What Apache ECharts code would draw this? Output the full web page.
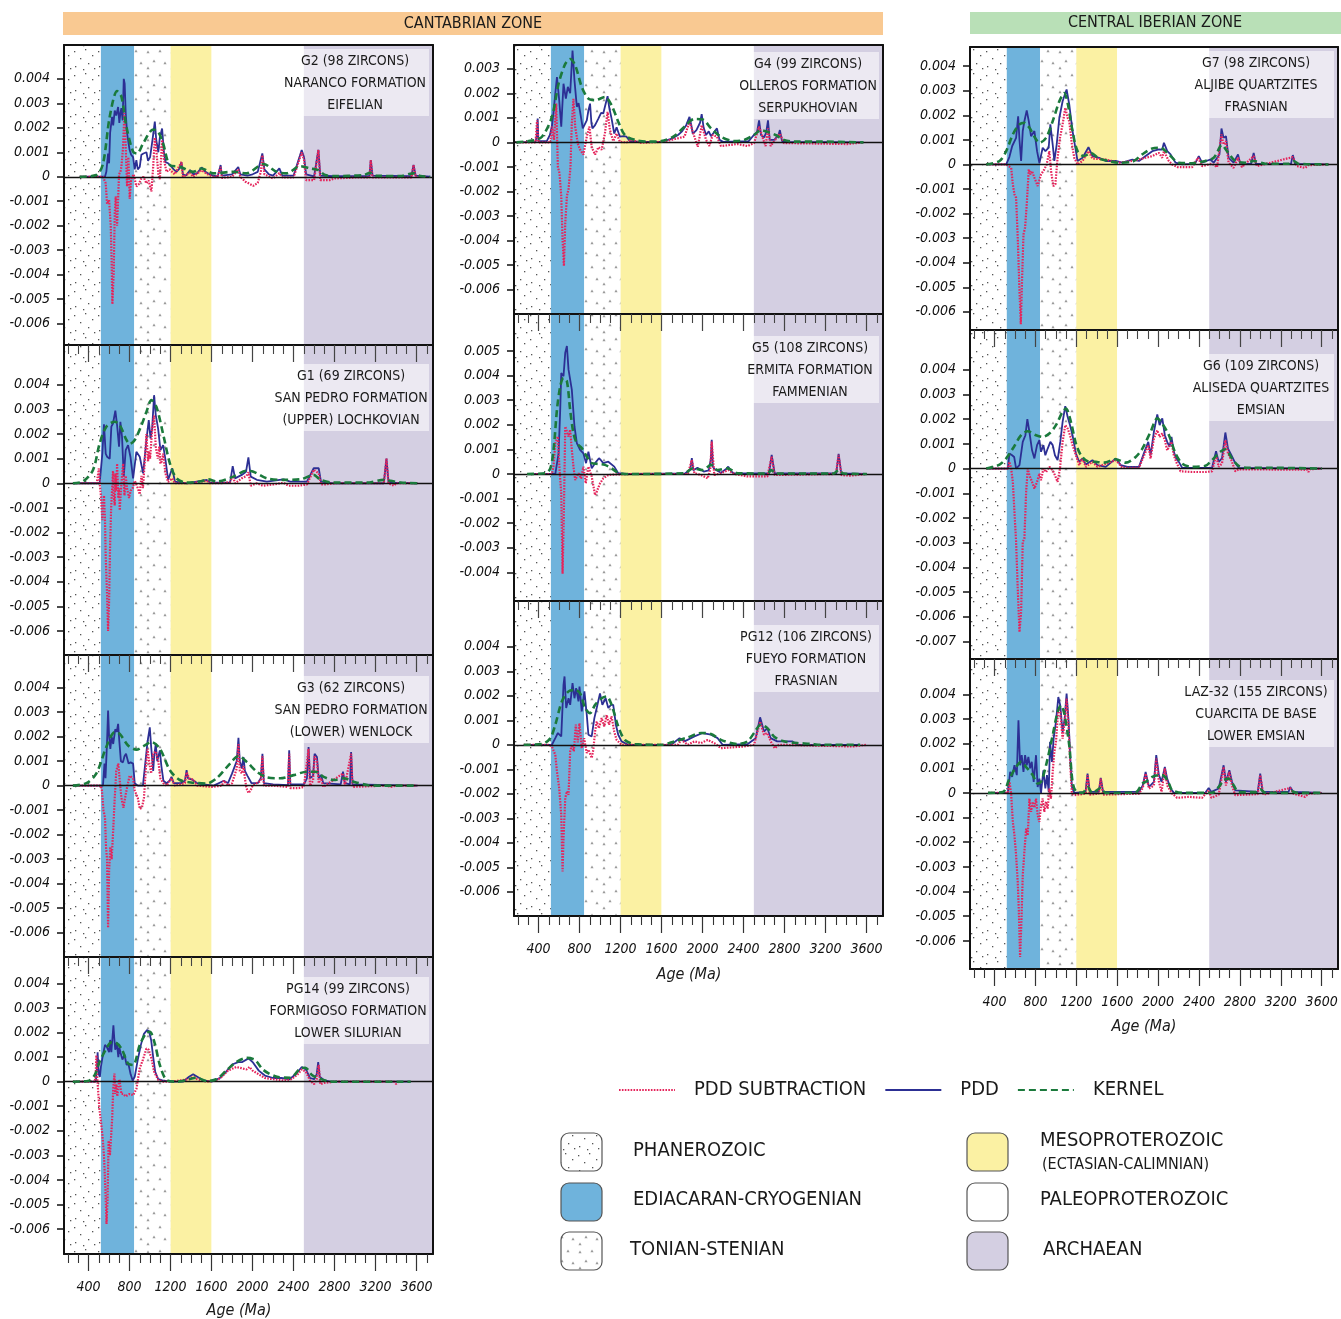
<!DOCTYPE html>
<html>
<head>
<meta charset="utf-8">
<title>Detrital zircon age spectra - Cantabrian and Central Iberian zones</title>
<script src="https://cdn.jsdelivr.net/npm/echarts@6/dist/echarts.min.js"></script>
<style>
  html, body { margin: 0; padding: 0; background: #fff; }
  #chart { width: 1341px; height: 1319px; }
</style>
</head>
<body>
<div id="chart"></div>
<script>
// all probability values below are in units of 0.001 (axis labels divide back)
var AGE_MIN = 160, AGE_MAX = 3760;
var majorAges = [400, 800, 1200, 1600, 2000, 2400, 2800, 3200, 3600];
var minorAges = [200, 300, 500, 600, 700, 900, 1000, 1100, 1300, 1400, 1500, 1700, 1800, 1900, 2100, 2200, 2300, 2500, 2600, 2700, 2900, 3000, 3100, 3300, 3400, 3500, 3700];

var bandNames = ['PHANEROZOIC', 'EDIACARAN-CRYOGENIAN', 'TONIAN-STENIAN', 'MESOPROTEROZOIC', 'PALEOPROTEROZOIC', 'ARCHAEAN'];
var bandFrom = [160, 520, 845, 1200, 1600, 2500];
var bandTo = [520, 845, 1200, 1600, 2500, 3760];

var ticksStd = [-6, -5, -4, -3, -2, -1, 0, 1, 2, 3, 4];
var ticksG4 = [-6, -5, -4, -3, -2, -1, 0, 1, 2, 3];
var ticksG5 = [-4, -3, -2, -1, 0, 1, 2, 3, 4, 5];
var ticksG6 = [-7, -6, -5, -4, -3, -2, -1, 0, 1, 2, 3, 4];

// ---- G2 Naranco Fm
var g2Sub = [[313,0],[541,0],[567,-0.27],[580,-1.1],[600,-0.95],[616,-2.0],[625,-3.5],[632,-5.2],[645,-3.9],[655,-1.5],[665,-0.8],[678,-2.0],[697,0.1],[710,0.2],[720,0.4],[736,1.2],[749,2.6],[760,1.5],[775,-0.4],[788,0.8],[801,-0.9],[815,-0.1],[840,0.1],[866,-0.4],[890,-0.3],[910,-0.1],[935,0],[964,-0.27],[985,-0.15],[1013,-0.6],[1030,0.4],[1046,1.6],[1060,1.1],[1081,0.1],[1095,-0.1],[1117,1.5],[1135,0.7],[1160,0.2],[1190,0.3],[1240,0.1],[1306,0.6],[1320,0],[1390,0.15],[1420,0],[1502,0.27],[1560,0.1],[1616,0],[1660,0],[1688,0.4],[1700,-0.05],[1800,0],[1860,0.3],[1880,0],[1930,-0.2],[2007,-0.37],[2050,-0.25],[2080,0.2],[2095,0.88],[2115,0.1],[2200,-0.07],[2261,0.15],[2290,-0.03],[2400,-0.03],[2479,1.0],[2502,0.68],[2522,-0.14],[2600,-0.14],[2642,1.1],[2660,-0.14],[2750,-0.14],[2800,-0.07],[3000,-0.03],[3140,-0.03],[3153,0.68],[3170,-0.03],[3550,-0.03],[3570,0.48],[3590,0],[3700,0]];
var g2Pdd = [[313,0],[560,0],[573,0.2],[590,0.95],[600,0.55],[610,1.8],[629,2.45],[640,2.1],[655,2.7],[670,2.5],[688,2.85],[700,2.2],[710,2.6],[720,2.8],[732,2.3],[743,4.0],[752,3.8],[762,2.6],[775,1.8],[785,1.5],[800,1.1],[815,0.9],[834,0.8],[850,0.3],[866,0.68],[880,0.3],[899,0.4],[915,0.9],[935,0.95],[964,1.0],[980,0.65],[1000,0.8],[1023,1.5],[1046,2.25],[1060,1.5],[1080,1.0],[1095,1.6],[1117,1.97],[1135,1.0],[1150,0.6],[1176,0.55],[1200,0.45],[1230,0.3],[1257,0.2],[1290,0.35],[1306,0.6],[1320,0.1],[1350,0.05],[1390,0.27],[1420,0.1],[1460,0.15],[1502,0.38],[1540,0.2],[1580,0.1],[1616,0.05],[1660,0.02],[1688,0.48],[1700,0.05],[1800,0.1],[1860,0.4],[1880,0.1],[1950,0.05],[2000,0.1],[2050,0.2],[2095,0.95],[2115,0.3],[2160,0.1],[2200,0.05],[2261,0.34],[2290,0.05],[2400,0.05],[2479,1.09],[2502,0.8],[2522,0.1],[2600,0.02],[2642,1.1],[2660,0.05],[2800,0.02],[3140,0.02],[3153,0.68],[3170,0.05],[3550,0.02],[3570,0.48],[3590,0.05],[3733,0]];
var g2Kernel = [[313,0],[476,0.07],[541,0.54],[606,2.45],[678,3.5],[720,3.27],[769,2.04],[834,1.02],[873,0.95],[932,1.36],[1030,1.93],[1078,1.84],[1127,1.36],[1192,0.48],[1290,0.41],[1420,0.2],[1502,0.34],[1616,0.14],[1811,0.2],[1942,0.14],[2105,0.52],[2235,0.2],[2333,0.14],[2463,0.43],[2561,0.34],[2642,0.27],[2707,0.07],[2789,0.03],[3082,0.07],[3147,0.16],[3212,0.04],[3440,0.03],[3570,0.14],[3636,0.03],[3733,0]];

// ---- G1 San Pedro Fm (upper)
var g1Sub = [[247,0],[480,0],[490,0.3],[500,0.6],[508,0],[520,-0.5],[534,-1.5],[550,-0.5],[560,-1.5],[567,-3.0],[580,-4.5],[590,-6.0],[600,-4.8],[610,-2.5],[620,-1.0],[630,-0.2],[638,0.5],[645,-0.5],[655,-0.9],[661,0.4],[670,-0.3],[678,0.8],[690,-0.6],[697,-0.2],[704,-1.1],[715,-0.3],[726,0.3],[737,0.8],[750,-0.5],[762,0.3],[775,-0.2],[795,-0.6],[810,-0.3],[830,-0.2],[850,0.1],[880,-0.2],[899,-0.45],[915,0.3],[930,-0.2],[950,1.0],[964,2.0],[980,0.9],[990,1.3],[1000,1.0],[1020,2.2],[1039,2.75],[1055,1.5],[1075,1.0],[1090,1.5],[1101,0.8],[1115,0.9],[1127,1.2],[1150,0.4],[1176,0.05],[1216,0.2],[1242,0],[1400,0],[1552,0.1],[1584,0],[1700,0],[1780,0.05],[1806,0.3],[1829,0],[1894,0.2],[1940,0.3],[1959,0.45],[1982,-0.1],[2041,0],[2100,-0.1],[2200,-0.05],[2302,0.02],[2350,-0.1],[2450,-0.1],[2530,-0.05],[2596,0.55],[2645,0.4],[2667,-0.05],[2700,-0.05],[2800,0],[3280,0],[3306,1.0],[3326,0],[3380,-0.1],[3400,0],[3607,0]];
var g1Pdd = [[247,0],[508,0],[534,1.2],[550,2.4],[567,1.2],[580,1.08],[606,1.0],[622,2.3],[638,2.43],[661,2.95],[678,2.36],[697,1.49],[710,2.5],[726,1.89],[743,0.27],[762,1.35],[785,1.55],[808,1.08],[834,0.2],[866,1.28],[899,1.08],[932,0.4],[964,1.76],[987,2.57],[1004,1.82],[1020,2.23],[1039,3.58],[1055,2.77],[1078,2.23],[1101,1.35],[1127,1.55],[1150,0.95],[1176,0.14],[1216,0.61],[1242,0.07],[1356,0],[1552,0.14],[1584,0.03],[1780,0.03],[1806,0.7],[1829,0.2],[1894,0.34],[1936,0.47],[1959,1.05],[1982,0.27],[2041,0.14],[2139,0.07],[2302,0.16],[2367,0.07],[2530,0.07],[2596,0.61],[2645,0.61],[2667,0.07],[2791,0],[3280,0],[3306,1.0],[3326,0.03],[3607,0]];
var g1Kernel = [[247,0],[345,0.07],[443,0.54],[508,1.62],[573,2.3],[655,2.5],[704,2.36],[769,1.76],[801,1.6],[850,1.76],[916,2.36],[964,2.9],[1013,3.38],[1062,3.1],[1127,2.0],[1193,0.81],[1258,0.2],[1356,0.03],[1486,0.07],[1568,0.16],[1649,0.07],[1812,0.27],[1943,0.51],[2008,0.47],[2139,0.2],[2302,0.14],[2465,0.16],[2596,0.34],[2661,0.14],[2791,0.03],[3117,0.03],[3280,0.14],[3346,0.1],[3444,0.03],[3607,0]];

// ---- G3 San Pedro Fm (lower)
var g3Sub = [[247,0],[520,0],[530,-0.2],[545,-1.0],[560,-1.3],[570,-2.5],[580,-3.0],[590,-5.8],[600,-3.5],[612,-2.5],[625,-3.0],[640,-1.8],[655,-0.5],[670,0.6],[690,0.9],[704,0.2],[720,-0.5],[740,-0.9],[760,-0.4],[779,0],[800,0.4],[834,0.3],[850,-0.2],[880,-0.5],[900,-0.95],[920,-0.9],[940,-0.5],[960,0.8],[975,1.5],[990,1.0],[1010,0.5],[1030,1.3],[1055,1.4],[1080,1.0],[1100,0.3],[1130,0.1],[1160,0],[1209,0.3],[1240,0],[1340,0.1],[1356,0.55],[1380,0.3],[1420,0.25],[1460,0],[1600,-0.05],[1700,0],[1720,0.2],[1760,0],[1800,0.1],[1845,0.7],[1862,1.7],[1875,0.6],[1895,0.5],[1911,0.8],[1925,0.3],[1940,-0.1],[1960,-0.3],[1980,-0.2],[2000,0],[2080,0.2],[2096,1.2],[2110,0],[2200,0],[2345,-0.05],[2357,1.3],[2368,-0.1],[2450,-0.1],[2500,-0.05],[2546,1.5],[2560,0],[2590,0.2],[2605,1.2],[2628,1.0],[2645,0.1],[2667,0.3],[2690,-0.05],[2882,0.5],[2900,0],[2961,1.3],[2975,-0.05],[3300,0],[3350,-0.05],[3400,0],[3607,0]];
var g3Pdd = [[247,0],[540,0],[555,0.9],[565,0.3],[580,1.8],[590,3.06],[600,2.0],[612,1.5],[625,2.0],[640,1.7],[660,2.3],[675,2.2],[688,2.52],[700,1.8],[715,1.0],[735,0.95],[750,1.2],[765,1.3],[779,1.3],[790,0.9],[810,0.95],[834,0.9],[850,0.1],[880,0],[930,0],[950,0.8],[975,1.8],[997,2.38],[1010,1.6],[1030,0.6],[1040,1.2],[1055,1.71],[1070,1.0],[1095,1.44],[1110,0.8],[1130,0.2],[1160,0.1],[1190,0.2],[1209,0.36],[1230,0.1],[1300,0.1],[1340,0.2],[1356,0.63],[1370,0.3],[1410,0.25],[1460,0.1],[1520,0.05],[1620,0],[1720,0.2],[1760,0.1],[1800,0.5],[1845,1.0],[1862,1.95],[1875,1.0],[1895,0.7],[1911,1.17],[1925,0.6],[1950,0.4],[1990,0.1],[2050,0.1],[2080,0.3],[2096,1.3],[2110,0.1],[2200,0.05],[2345,0.02],[2357,1.44],[2368,0.05],[2500,0.05],[2530,0.3],[2546,1.58],[2560,0.3],[2590,0.4],[2605,1.3],[2628,1.17],[2645,0.3],[2667,0.43],[2690,0.1],[2860,0.05],[2882,0.57],[2900,0.1],[2950,0.05],[2961,1.37],[2975,0.05],[3607,0]];
var g3Kernel = [[247,0],[378,0.1],[476,0.5],[573,1.58],[655,2.18],[704,2.11],[785,1.64],[866,1.47],[948,1.64],[1013,1.78],[1095,1.51],[1193,0.63],[1290,0.23],[1421,0.12],[1551,0.09],[1649,0.3],[1780,0.9],[1862,1.21],[1943,0.97],[2041,0.57],[2139,0.34],[2269,0.3],[2400,0.43],[2530,0.57],[2612,0.57],[2693,0.36],[2791,0.23],[2889,0.3],[2987,0.16],[3117,0.03],[3280,0],[3607,0]];

// ---- PG14 Formigoso Fm
var pg14Sub = [[247,0],[460,0],[470,0.4],[476,1.08],[484,0.2],[492,-0.3],[505,-1.1],[520,-1.6],[535,-2.2],[550,-3.0],[565,-4.5],[575,-5.8],[585,-4.8],[595,-2.4],[608,-3.0],[620,-2.2],[630,-1.5],[640,-0.3],[652,0.33],[660,-0.5],[670,-0.1],[680,-0.6],[700,0.1],[720,-0.5],[740,-0.5],[760,-0.6],[800,-0.5],[834,-0.55],[866,-0.3],[899,0.54],[930,0.9],[964,1.35],[987,1.3],[1013,0.95],[1040,0.4],[1080,0.07],[1130,0],[1200,0],[1380,0.1],[1420,0.2],[1460,0.1],[1550,0],[1650,0.05],[1700,0.2],[1760,0.45],[1840,0.6],[1890,0.55],[1940,0.5],[1970,0.6],[2000,0.45],[2060,0.3],[2120,0.15],[2200,0.1],[2300,0.05],[2380,0.1],[2440,0.3],[2480,0.5],[2520,0.4],[2560,0.05],[2600,-0.1],[2625,0.1],[2645,0.68],[2660,-0.1],[2700,-0.05],[2800,0],[3380,0],[3400,-0.1],[3420,0]];
var pg14Pdd = [[247,0],[470,0],[480,0.5],[488,1.2],[493,0.8],[500,0.3],[510,0.2],[520,0.6],[540,1.1],[560,1.5],[580,1.4],[600,1.2],[610,1.7],[622,1.2],[635,1.9],[642,2.3],[650,1.8],[660,1.3],[675,1.6],[690,1.0],[700,1.4],[710,1.2],[730,0.9],[750,1.1],[770,0.7],[790,0.7],[810,0.3],[830,0.05],[850,0.2],[880,0.9],[910,1.5],[940,1.95],[970,2.1],[990,2.05],[1010,1.7],[1030,1.0],[1050,0.4],[1080,0.1],[1120,0.05],[1200,0],[1320,0],[1380,0.2],[1420,0.3],[1460,0.2],[1520,0.05],[1600,0],[1680,0.15],[1740,0.4],[1800,0.7],[1860,0.8],[1900,0.8],[1960,0.95],[2000,0.8],[2060,0.45],[2120,0.25],[2200,0.15],[2280,0.15],[2360,0.1],[2420,0.3],[2480,0.6],[2520,0.5],[2560,0.15],[2600,0.1],[2625,0.3],[2640,0.8],[2655,0.2],[2700,0.05],[2760,0],[3542,0]];
var pg14Kernel = [[247,0],[394,0.03],[459,0.27],[508,0.81],[573,1.35],[622,1.6],[655,1.6],[720,1.35],[785,0.74],[834,0.68],[899,1.49],[964,2.0],[997,2.03],[1046,1.55],[1095,0.68],[1160,0.07],[1258,0],[1389,0.11],[1454,0.16],[1552,0.03],[1650,0.11],[1747,0.47],[1845,0.81],[1943,0.97],[2025,0.88],[2107,0.47],[2237,0.2],[2368,0.16],[2465,0.54],[2514,0.57],[2579,0.27],[2645,0.14],[2726,0.03],[2791,0],[3542,0]];

// ---- G4 Olleros Fm
var g4Sub = [[184,0],[370,0],[385,0.9],[398,0],[514,0],[530,0.64],[550,0.1],[572,1.58],[588,-1.0],[604,-1.26],[621,-2.2],[634,-4.0],[647,-5.04],[660,-3.3],[676,-2.2],[692,-1.9],[711,-1.0],[724,0.77],[740,1.78],[757,0.64],[782,-0.05],[805,-0.3],[837,-0.5],[870,0.23],[896,0.64],[918,-0.2],[951,-0.5],[983,-0.2],[1015,-0.3],[1047,0.36],[1073,1.24],[1096,0.5],[1128,0.05],[1161,0.36],[1193,0.02],[1260,0],[1300,0.1],[1400,-0.02],[1600,0.02],[1694,0.1],[1823,0.23],[1872,0.84],[1920,0.23],[1953,-0.18],[1991,0.7],[2034,0.1],[2066,-0.15],[2098,0.3],[2140,0.23],[2179,-0.15],[2340,-0.07],[2438,-0.15],[2502,-0.03],[2551,0.64],[2593,0.1],[2615,-0.15],[2638,0.57],[2664,-0.15],[2754,0.36],[2793,-0.03],[3408,-0.07],[3569,0]];
var g4Pdd = [[184,0],[370,0.02],[384,0.3],[391,0.97],[398,0.05],[480,0.05],[510,0.3],[530,0.66],[545,1.2],[563,2.0],[579,2.66],[601,1.72],[621,0.64],[643,2.39],[666,1.78],[685,2.26],[708,2.0],[731,3.74],[750,2.53],[773,1.45],[790,1.6],[805,1.24],[831,0.57],[850,0.6],[870,0.9],[886,1.3],[902,1.58],[915,0.8],[925,0.57],[951,0.7],[983,0.97],[1010,1.2],[1031,1.18],[1050,1.5],[1073,1.88],[1090,1.4],[1112,0.97],[1138,0.36],[1161,0.61],[1193,0.23],[1230,0.25],[1258,0.23],[1290,0.05],[1400,0.02],[1600,0.02],[1700,0.15],[1760,0.3],[1800,0.45],[1840,0.7],[1872,1.04],[1890,0.7],[1904,0.35],[1940,0.5],[1975,0.8],[1991,1.15],[2010,0.6],[2034,0.3],[2060,0.45],[2082,0.25],[2110,0.4],[2140,0.57],[2165,0.1],[2200,0.02],[2450,0.05],[2500,0.3],[2530,0.4],[2551,0.9],[2570,0.3],[2600,0.2],[2620,0.4],[2638,0.9],[2655,0.1],[2700,0.1],[2740,0.3],[2754,0.5],[2775,0.05],[2850,0.02],[3569,0]];
var g4Kernel = [[184,0],[336,0.07],[433,0.23],[530,1.04],[595,2.39],[660,3.2],[708,3.4],[757,3.14],[821,2.26],[886,1.78],[951,1.72],[1047,1.85],[1112,1.51],[1177,0.84],[1241,0.3],[1338,0.1],[1468,0.03],[1597,0.05],[1726,0.26],[1823,0.64],[1920,0.95],[2001,0.93],[2082,0.57],[2179,0.23],[2308,0.05],[2405,0.1],[2502,0.3],[2567,0.5],[2632,0.43],[2712,0.3],[2793,0.1],[2890,0.03],[3149,0.03],[3569,0]];

// ---- G5 Ermita Fm
var g5Sub = [[288,0],[530,0],[545,0.3],[563,1.25],[588,1.52],[604,0.2],[621,-0.79],[634,-4.05],[647,-1.47],[660,1.93],[676,2.0],[692,1.52],[708,1.8],[724,0.98],[740,0.3],[757,-0.25],[789,0.03],[815,-0.18],[837,0.3],[860,-0.38],[886,0.3],[918,-0.1],[951,-0.86],[967,-0.72],[999,-0.38],[1031,-0.18],[1080,-0.04],[1144,-0.02],[1300,0],[1856,0],[1895,0.57],[1920,0.03],[1985,-0.04],[2050,-0.18],[2075,0.2],[2089,1.32],[2114,-0.04],[2179,0.03],[2250,0.16],[2308,0],[2438,-0.1],[2632,-0.1],[2674,0.7],[2703,-0.04],[3300,0],[3327,0.78],[3353,-0.04],[3440,-0.07],[3602,0]];
var g5Pdd = [[288,0],[563,0],[595,0.84],[610,2.5],[621,4.1],[643,3.97],[660,4.93],[676,5.2],[692,4.24],[708,4.24],[724,3.43],[750,1.93],[773,1.25],[805,0.98],[837,0.84],[863,0.44],[886,0.91],[918,0.23],[951,0.44],[989,0.64],[1010,0.55],[1031,0.44],[1080,0.5],[1138,0.3],[1177,0.03],[1260,0],[1830,0.02],[1880,0.2],[1895,0.64],[1910,0.15],[1950,0.25],[1969,0.33],[2011,0.1],[2060,0.15],[2080,0.6],[2089,1.39],[2100,0.3],[2114,0.2],[2179,0.05],[2230,0.2],[2250,0.3],[2280,0.1],[2308,0.02],[2648,0.02],[2674,0.78],[2703,0.02],[3304,0.02],[3327,0.82],[3353,0.02],[3602,0]];
var g5Kernel = [[288,0],[466,0.03],[514,0.23],[546,0.98],[579,2.6],[611,3.56],[643,3.9],[676,3.77],[708,2.6],[740,1.66],[773,1.25],[821,1.05],[870,0.71],[918,0.44],[983,0.41],[1047,0.37],[1112,0.23],[1177,0.05],[1274,0],[1823,0.03],[1904,0.23],[2001,0.16],[2082,0.37],[2147,0.16],[2244,0.23],[2341,0.03],[2632,0.02],[2670,0.16],[2712,0.02],[3278,0.02],[3327,0.16],[3375,0.02],[3602,0]];

// ---- PG12 Fueyo Fm
var pg12Sub = [[255,0],[498,0],[530,-0.07],[563,-0.41],[579,-1.09],[601,-1.77],[621,-2.86],[634,-5.17],[643,-3.81],[660,-2.18],[676,-1.9],[692,-2.04],[708,-0.27],[724,0],[744,-0.27],[763,0.82],[782,0.1],[799,0.88],[821,-0.14],[844,0.27],[870,-0.34],[886,-0.2],[918,-0.54],[934,-0.2],[951,0.54],[967,0.95],[989,0.68],[1015,1.09],[1041,0.75],[1064,1.22],[1087,0.82],[1112,1.16],[1138,0.54],[1161,0.2],[1209,0],[1759,0],[1791,0.2],[1856,0],[1920,0.14],[1985,0.07],[2050,0.2],[2114,0.07],[2179,-0.14],[2276,-0.11],[2405,-0.07],[2502,0],[2561,0.95],[2599,0.41],[2632,0.48],[2664,0.14],[2703,-0.14],[2745,0],[3472,-0.07],[3602,0]];
var pg12Pdd = [[255,0],[530,0],[563,0.27],[588,0.48],[621,0.34],[643,2.45],[653,2.79],[669,1.5],[692,1.9],[708,1.63],[731,2.52],[750,1.9],[766,2.31],[789,1.77],[799,2.38],[821,1.36],[847,2.18],[870,1.22],[886,0.41],[918,0.34],[944,1.09],[967,1.5],[999,2.1],[1022,1.63],[1054,1.9],[1080,1.5],[1106,1.63],[1128,1.63],[1154,0.82],[1177,0.41],[1209,0.14],[1274,0],[1694,0],[1775,0.27],[1823,0.14],[1920,0.34],[2001,0.48],[2082,0.41],[2147,0.27],[2195,0],[2440,0.03],[2518,0.27],[2561,1.12],[2599,0.54],[2632,0.68],[2664,0.27],[2728,0.14],[2874,0.14],[2923,0],[3537,0]];
var pg12Kernel = [[255,0],[433,0.03],[514,0.27],[563,0.82],[627,1.77],[692,2.18],[757,2.24],[805,2.1],[854,1.5],[902,1.29],[951,1.63],[1015,1.9],[1064,1.97],[1112,1.63],[1177,0.75],[1241,0.2],[1338,0.03],[1597,0],[1726,0.14],[1856,0.3],[1985,0.48],[2082,0.44],[2179,0.2],[2341,0.03],[2438,0.14],[2502,0.48],[2567,0.82],[2632,0.68],[2696,0.34],[2793,0.14],[2923,0.07],[3052,0.04],[3149,0],[3537,0]];

// ---- G7 Aljibe Quartzites
var g7Sub = [[319,0],[514,0],[563,-0.14],[579,-0.81],[595,-1.22],[611,-1.36],[627,-2.98],[644,-5.15],[657,-6.5],[670,-4.6],[683,-2.85],[699,-2.57],[715,-1.63],[735,-0.2],[751,-0.41],[767,-0.27],[790,-0.54],[822,-0.88],[855,-0.41],[887,-0.2],[910,0],[936,0.54],[953,-0.27],[975,-0.88],[995,-0.81],[1017,0.27],[1040,1.08],[1066,1.63],[1092,2.3],[1115,1.9],[1131,1.76],[1157,0.81],[1180,0.27],[1212,0],[1261,0.14],[1319,0.54],[1358,0.24],[1488,0.2],[1618,0.07],[1748,0.14],[1878,0.27],[1943,0.34],[2008,0.47],[2040,0.27],[2057,0.54],[2105,0.14],[2138,0],[2187,-0.11],[2333,-0.11],[2391,0.27],[2430,-0.07],[2528,0.03],[2577,-0.11],[2620,1.22],[2641,0.81],[2664,0.95],[2690,0.07],[2739,-0.14],[2782,0.27],[2820,-0.11],[2935,0.34],[2967,-0.07],[3318,0.3],[3357,-0.07],[3438,-0.14],[3471,-0.03],[3666,0]];
var g7Pdd = [[319,0],[514,0],[545,0.3],[573,0.75],[611,1.08],[631,1.96],[644,1.0],[660,0.14],[676,1.36],[692,1.76],[715,2.2],[735,1.76],[757,1.15],[790,1.36],[816,0.54],[839,0.05],[871,0.68],[898,0.54],[930,0.68],[946,1.63],[969,0.81],[985,0.14],[1008,0.81],[1034,1.9],[1066,2.57],[1088,2.85],[1105,3.05],[1131,2.44],[1163,1.36],[1196,0.54],[1212,0.14],[1261,0.27],[1319,0.7],[1358,0.34],[1423,0.27],[1488,0.14],[1585,0.14],[1650,0.07],[1748,0.2],[1813,0.14],[1878,0.34],[1943,0.54],[2008,0.61],[2040,0.6],[2057,0.88],[2090,0.54],[2122,0.41],[2171,0.07],[2236,0],[2360,0.02],[2398,0.34],[2430,0.07],[2511,0.2],[2544,0.07],[2600,0.4],[2620,1.46],[2641,1.08],[2664,1.15],[2690,0.27],[2739,0.07],[2782,0.41],[2804,0.02],[2910,0.02],[2935,0.47],[2957,0.02],[3300,0.02],[3318,0.38],[3341,0.02],[3666,0]];
var g7Kernel = [[319,0],[449,0.14],[514,0.54],[579,1.22],[644,1.63],[692,1.69],[741,1.49],[806,1.02],[839,0.88],[904,1.08],[969,1.76],[1034,2.57],[1082,2.91],[1115,2.5],[1163,1.36],[1212,0.54],[1277,0.34],[1342,0.47],[1423,0.24],[1520,0.14],[1618,0.07],[1748,0.11],[1845,0.41],[1943,0.65],[2024,0.68],[2105,0.41],[2203,0.07],[2333,0.05],[2430,0.11],[2544,0.27],[2625,0.79],[2674,0.54],[2755,0.14],[2853,0.07],[2935,0.14],[3048,0.03],[3276,0.03],[3325,0.14],[3373,0.03],[3666,0]];

// ---- G6 Aliseda Quartzites
var g6Sub = [[319,0],[530,0],[546,0.27],[563,0],[579,-0.54],[595,-1.76],[611,-2.97],[627,-4.86],[644,-6.62],[660,-5.81],[676,-2.97],[692,-2.84],[709,-0.95],[725,0],[741,-0.27],[767,-0.54],[790,-0.81],[816,-0.54],[839,-0.2],[855,-0.47],[878,0],[904,-0.14],[936,0.07],[969,-0.07],[991,-0.27],[1017,-0.54],[1040,0],[1066,1.08],[1092,1.76],[1115,1.62],[1138,1.35],[1163,0.95],[1196,0.54],[1228,0.14],[1261,0.41],[1293,0.07],[1358,0.27],[1407,0.07],[1586,0.34],[1651,0.03],[1813,0.03],[1878,0.68],[1904,0.95],[1927,0.41],[1959,1.22],[1992,1.55],[2015,1.28],[2041,1.42],[2066,1.15],[2089,0.74],[2131,1.08],[2154,0.54],[2177,0.27],[2219,-0.11],[2333,-0.14],[2463,-0.14],[2528,-0.11],[2567,0.54],[2593,0.07],[2625,0.2],[2658,1.15],[2684,0.61],[2717,0.34],[2755,-0.11],[2788,-0.03],[3460,-0.05],[3471,-0.14],[3485,-0.03],[3601,0]];
var g6Pdd = [[319,0],[530,0],[546,0.61],[572,0.54],[592,0.47],[611,0],[644,0.14],[676,1.08],[702,1.35],[721,2.0],[741,1.49],[767,0.74],[790,0.41],[816,0.95],[839,1.15],[855,0.68],[878,0.95],[897,0.54],[920,0.81],[946,1.08],[969,0.95],[991,0.54],[1017,0.34],[1043,1.08],[1066,1.89],[1092,2.53],[1115,2.1],[1138,1.76],[1163,1.35],[1196,0.61],[1228,0.27],[1261,0.41],[1293,0.16],[1358,0.34],[1407,0.14],[1488,0.07],[1586,0.41],[1635,0.14],[1700,0.07],[1813,0.07],[1878,0.81],[1904,1.08],[1927,0.54],[1959,1.49],[1992,2.19],[2015,1.76],[2041,2.03],[2066,1.35],[2089,1.08],[2112,0.88],[2131,1.28],[2154,0.68],[2177,0.41],[2203,0.27],[2236,0.03],[2528,0.03],[2567,0.7],[2593,0.27],[2625,0.41],[2658,1.46],[2684,0.81],[2717,0.54],[2749,0.27],[2788,0.03],[3601,0]];
var g6Kernel = [[319,0],[449,0.16],[514,0.41],[579,0.81],[660,1.35],[725,1.51],[806,1.35],[871,1.28],[936,1.42],[1001,1.76],[1066,2.3],[1099,2.43],[1147,1.89],[1196,1.01],[1245,0.54],[1310,0.3],[1391,0.27],[1472,0.24],[1586,0.38],[1683,0.24],[1781,0.47],[1846,0.81],[1927,1.49],[1992,2.03],[2041,1.82],[2106,1.35],[2171,0.61],[2236,0.2],[2333,0.07],[2463,0.11],[2528,0.34],[2609,0.68],[2658,0.78],[2723,0.41],[2788,0.11],[2885,0.03],[3113,0.03],[3601,0]];

// ---- LAZ-32 Cuarcita de Base
var lazSub = [[336,0],[530,0],[546,0.45],[562,0],[579,-1.18],[595,-1.72],[611,-2.53],[627,-3.61],[637,-4.69],[650,-6.65],[663,-5.23],[676,-3.34],[692,-2.39],[709,-1.45],[725,-1.72],[741,-0.23],[757,-0.77],[774,-0.36],[790,-0.6],[806,-0.23],[822,-0.9],[839,-1.18],[855,-0.5],[871,-0.23],[887,-0.77],[904,-0.36],[920,-0.64],[936,0.18],[952,-0.23],[969,0.85],[985,1.66],[1001,2.07],[1024,3.42],[1043,3.28],[1066,2.2],[1086,2.88],[1105,3.82],[1125,2.61],[1141,1.12],[1157,-0.03],[1180,-0.09],[1293,-0.03],[1310,0.72],[1332,-0.07],[1420,-0.03],[1439,0.58],[1462,-0.07],[1813,-0.03],[1850,0.2],[1878,0.78],[1911,0.18],[1959,0.3],[1982,1.39],[2008,0.45],[2034,0.04],[2066,0.99],[2089,0.3],[2138,-0.03],[2187,-0.2],[2300,-0.16],[2430,-0.2],[2495,0.11],[2521,-0.2],[2593,-0.07],[2641,1.05],[2664,0.3],[2697,0.85],[2723,0.3],[2755,-0.09],[2975,-0.05],[2999,0.72],[3030,-0.07],[3292,0.2],[3324,-0.03],[3438,-0.16],[3470,-0.03],[3601,0]];
var lazPdd = [[336,0],[530,0],[553,0.85],[572,0.65],[595,1.12],[618,0.72],[634,2.95],[650,1.12],[666,1.53],[683,0.85],[699,1.53],[715,1.12],[731,1.46],[748,1.0],[764,1.26],[783,0.45],[806,1.53],[822,0.24],[839,0.58],[855,0],[878,0.92],[897,0.18],[913,0.72],[930,0.04],[943,2.07],[962,1.26],[978,2.2],[1001,2.88],[1024,3.89],[1043,3.55],[1066,2.47],[1086,3.01],[1105,4.03],[1125,2.88],[1141,1.39],[1157,0.24],[1180,0],[1290,0.04],[1310,0.78],[1332,0.04],[1420,0.04],[1439,0.61],[1462,0.04],[1813,0.04],[1850,0.3],[1878,0.85],[1911,0.24],[1959,0.45],[1982,1.53],[2008,0.72],[2034,0.45],[2066,1.05],[2089,0.58],[2122,0.18],[2155,0],[2460,0],[2495,0.2],[2521,0.04],[2593,0.18],[2641,1.12],[2664,0.45],[2697,0.92],[2723,0.45],[2755,0.1],[2975,0.04],[2999,0.78],[3022,0.04],[3276,0.04],[3292,0.24],[3324,0.04],[3601,0]];
var lazKernel = [[336,0],[482,0.04],[546,0.58],[611,1.05],[660,1.26],[709,1.05],[774,0.72],[822,0.38],[855,0.45],[904,1.12],[969,2.34],[1017,3.28],[1050,3.55],[1082,3.22],[1131,1.93],[1163,0.45],[1196,0.07],[1261,0],[1310,0.24],[1358,0],[1439,0.2],[1488,0],[1781,0.03],[1846,0.38],[1878,0.45],[1943,0.65],[2008,0.72],[2057,0.69],[2106,0.38],[2138,0.11],[2236,0],[2528,0.01],[2593,0.24],[2641,0.51],[2690,0.58],[2739,0.31],[2788,0.03],[2950,0.03],[2999,0.15],[3048,0.01],[3276,0],[3308,0.07],[3357,0],[3601,0]];

var FONT = "'DejaVu Sans Condensed','Liberation Sans Narrow',sans-serif";
var C_SUB = '#e5245b', C_PDD = '#2c2f94', C_KDE = '#1b7a3c';

// small textures for the two stippled age bands
function makeTexture(kind) {
  var c = document.createElement('canvas');
  c.width = 24; c.height = 24;
  var ctx = c.getContext('2d');
  ctx.fillStyle = '#fff';
  ctx.fillRect(0, 0, 24, 24);
  if (kind === 'dots') {
    ctx.fillStyle = '#555';
    [[2,3],[13,1],[20,7],[8,10],[16,15],[3,18],[11,21],[22,20]].forEach(function (d) {
      ctx.fillRect(d[0], d[1], 1.3, 1.3);
    });
  } else {
    ctx.fillStyle = '#9a9a9a';
    [[4,4],[16,3],[10,13],[21,15],[4,20]].forEach(function (d) {
      ctx.beginPath();
      ctx.moveTo(d[0], d[1] - 1.6);
      ctx.lineTo(d[0] + 1.6, d[1] + 1.2);
      ctx.lineTo(d[0] - 1.6, d[1] + 1.2);
      ctx.closePath();
      ctx.fill();
    });
  }
  return c;
}
var dotTex = { image: makeTexture('dots'), repeat: 'repeat' };
var triTex = { image: makeTexture('tri'), repeat: 'repeat' };
var bandFill = [dotTex, '#6fb3dc', triTex, '#fbf1a3', '#ffffff', '#d4cfe2'];

var panels = [
  { lines: ['G2 (98 ZIRCONS)', 'NARANCO FORMATION', 'EIFELIAN'], sub: g2Sub, pdd: g2Pdd, kde: g2Kernel,
    left: 64, top: 45, width: 369, height: 300, ymin: -6.87, ymax: 5.38, yTicks: ticksStd, cx: 355, ly: 61, first: true, last: false },
  { lines: ['G1 (69 ZIRCONS)', 'SAN PEDRO FORMATION', '(UPPER) LOCHKOVIAN'], sub: g1Sub, pdd: g1Pdd, kde: g1Kernel,
    left: 64, top: 345, width: 369, height: 310, ymin: -6.98, ymax: 5.62, yTicks: ticksStd, cx: 351, ly: 376, first: false, last: false },
  { lines: ['G3 (62 ZIRCONS)', 'SAN PEDRO FORMATION', '(LOWER) WENLOCK'], sub: g3Sub, pdd: g3Pdd, kde: g3Kernel,
    left: 64, top: 655, width: 369, height: 302, ymin: -6.99, ymax: 5.33, yTicks: ticksStd, cx: 351, ly: 688, first: false, last: false },
  { lines: ['PG14 (99 ZIRCONS)', 'FORMIGOSO FORMATION', 'LOWER SILURIAN'], sub: pg14Sub, pdd: pg14Pdd, kde: pg14Kernel,
    left: 64, top: 957, width: 369, height: 297, ymin: -7.02, ymax: 5.08, yTicks: ticksStd, cx: 348, ly: 989, first: false, last: true },
  { lines: ['G4 (99 ZIRCONS)', 'OLLEROS FORMATION', 'SERPUKHOVIAN'], sub: g4Sub, pdd: g4Pdd, kde: g4Kernel,
    left: 514, top: 45, width: 369, height: 269, ymin: -7.0, ymax: 3.97, yTicks: ticksG4, cx: 808, ly: 64, first: true, last: false },
  { lines: ['G5 (108 ZIRCONS)', 'ERMITA FORMATION', 'FAMMENIAN'], sub: g5Sub, pdd: g5Pdd, kde: g5Kernel,
    left: 514, top: 314, width: 369, height: 287, ymin: -5.16, ymax: 6.5, yTicks: ticksG5, cx: 810, ly: 348, first: false, last: false },
  { lines: ['PG12 (106 ZIRCONS)', 'FUEYO FORMATION', 'FRASNIAN'], sub: pg12Sub, pdd: pg12Pdd, kde: pg12Kernel,
    left: 514, top: 601, width: 369, height: 315, ymin: -6.99, ymax: 5.87, yTicks: ticksStd, cx: 806, ly: 637, first: false, last: true },
  { lines: ['G7 (98 ZIRCONS)', 'ALJIBE QUARTZITES', 'FRASNIAN'], sub: g7Sub, pdd: g7Pdd, kde: g7Kernel,
    left: 970, top: 47, width: 368, height: 283, ymin: -6.74, ymax: 4.78, yTicks: ticksStd, cx: 1256, ly: 63, first: true, last: false },
  { lines: ['G6 (109 ZIRCONS)', 'ALISEDA QUARTZITES', 'EMSIAN'], sub: g6Sub, pdd: g6Pdd, kde: g6Kernel,
    left: 970, top: 330, width: 368, height: 329, ymin: -7.71, ymax: 5.61, yTicks: ticksG6, cx: 1261, ly: 366, first: false, last: false },
  { lines: ['LAZ-32 (155 ZIRCONS)', 'CUARCITA DE BASE', 'LOWER EMSIAN'], sub: lazSub, pdd: lazPdd, kde: lazKernel,
    left: 970, top: 659, width: 368, height: 310, ymin: -7.14, ymax: 5.43, yTicks: ticksStd, cx: 1256, ly: 692, first: false, last: true }
];

function probLabel(v) {
  return v === 0 ? '0' : (v / 1000).toFixed(3);
}
function ageLabel(v) {
  return String(Math.round(v));
}

var grids = [], xAxes = [], yAxes = [], series = [], graphics = [];

panels.forEach(function (p) {
  var g = grids.length;
  // main grid + an overlay grid carrying the minor age ticks
  grids.push({ left: p.left, top: p.top, width: p.width, height: p.height });
  grids.push({ left: p.left, top: p.top, width: p.width, height: p.height });

  var xb = xAxes.length;
  xAxes.push({
    gridIndex: g, type: 'value', min: AGE_MIN, max: AGE_MAX, position: 'bottom', z: 6,
    splitLine: { show: false },
    axisLine: { show: true, onZero: false, lineStyle: { color: '#111', width: 2 } },
    axisTick: { show: p.last, length: 17, customValues: majorAges, lineStyle: { color: '#333', width: 1.2 } },
    axisLabel: { show: p.last, customValues: majorAges, margin: 26, hideOverlap: false, formatter: ageLabel,
      fontFamily: FONT, fontStyle: 'italic', fontSize: 14, color: '#111' }
  });
  xAxes.push({
    gridIndex: g, type: 'value', min: AGE_MIN, max: AGE_MAX, position: 'top', z: 6,
    splitLine: { show: false },
    axisLine: { show: true, onZero: false, lineStyle: { color: '#111', width: 2 } },
    axisTick: { show: !p.first, inside: true, length: 17, customValues: majorAges, lineStyle: { color: '#444', width: 1.2 } },
    axisLabel: { show: false }
  });
  xAxes.push({
    gridIndex: g + 1, type: 'value', min: AGE_MIN, max: AGE_MAX, position: 'bottom', z: 6,
    splitLine: { show: false }, axisLine: { show: false, onZero: false },
    axisTick: { show: p.last, length: 9, customValues: minorAges, lineStyle: { color: '#333', width: 1.1 } },
    axisLabel: { show: false }
  });
  xAxes.push({
    gridIndex: g + 1, type: 'value', min: AGE_MIN, max: AGE_MAX, position: 'top', z: 6,
    splitLine: { show: false }, axisLine: { show: false, onZero: false },
    axisTick: { show: !p.first, inside: true, length: 9, customValues: minorAges, lineStyle: { color: '#444', width: 1.1 } },
    axisLabel: { show: false }
  });

  var yb = yAxes.length;
  yAxes.push({
    gridIndex: g, type: 'value', min: p.ymin, max: p.ymax, position: 'left', z: 6,
    splitLine: { show: false },
    axisLine: { show: true, onZero: false, lineStyle: { color: '#111', width: 2 } },
    axisTick: { show: true, length: 7, customValues: p.yTicks, lineStyle: { color: '#111', width: 1.5 } },
    axisLabel: { customValues: p.yTicks, margin: 14, fontFamily: FONT, fontStyle: 'italic', fontSize: 14, color: '#111', formatter: probLabel }
  });
  yAxes.push({
    gridIndex: g, type: 'value', min: p.ymin, max: p.ymax, position: 'right', z: 6,
    splitLine: { show: false },
    axisLine: { show: true, onZero: false, lineStyle: { color: '#111', width: 2 } },
    axisTick: { show: false }, axisLabel: { show: false }
  });
  yAxes.push({ gridIndex: g + 1, type: 'value', min: p.ymin, max: p.ymax, show: false });

  series.push({
    name: 'bands', type: 'line', xAxisIndex: xb, yAxisIndex: yb, data: [], z: 1, silent: true,
    markArea: {
      silent: true,
      data: bandFrom.map(function (f, k) {
        return [{ name: bandNames[k], xAxis: f, itemStyle: { color: bandFill[k], opacity: 1 } }, { xAxis: bandTo[k] }];
      }),
      label: { show: false }
    }
  });
  series.push({
    name: 'zero', type: 'line', xAxisIndex: xb, yAxisIndex: yb, data: [], z: 2, silent: true,
    markLine: { silent: true, symbol: 'none', label: { show: false },
      lineStyle: { color: '#111', width: 1.3, type: 'solid' }, data: [{ yAxis: 0 }] }
  });
  series.push({
    name: 'PDD', type: 'line', xAxisIndex: xb, yAxisIndex: yb, data: p.pdd, z: 3,
    symbol: 'none', lineStyle: { color: C_PDD, width: 1.8 }, itemStyle: { color: C_PDD }
  });
  series.push({
    name: 'PDD SUBTRACTION', type: 'line', xAxisIndex: xb, yAxisIndex: yb, data: p.sub, z: 4,
    symbol: 'none', lineStyle: { color: C_SUB, width: 2.2, type: [1.6, 1.3] }, itemStyle: { color: C_SUB }
  });
  series.push({
    name: 'KERNEL', type: 'line', xAxisIndex: xb, yAxisIndex: yb, data: p.kde, z: 5, smooth: 0.3,
    symbol: 'none', lineStyle: { color: C_KDE, width: 2.6, type: [7, 4] }, itemStyle: { color: C_KDE }
  });

  // sample caption box
  var boxLeft = p.cx - 74;
  graphics.push({
    type: 'rect', z: 20, silent: true,
    shape: { x: boxLeft, y: p.ly - 12, width: p.left + p.width - 4 - boxLeft, height: 67 },
    style: { fill: 'rgba(255,255,255,0.55)' }
  });
  p.lines.forEach(function (t, k) {
    graphics.push({
      type: 'text', z: 21, silent: true, x: p.cx, y: p.ly + k * 22,
      style: { text: t, fill: '#1a1a1a', font: '14px ' + FONT, align: 'center', verticalAlign: 'middle' }
    });
  });
});

// zone headers
graphics.push(
  { type: 'rect', z: 20, shape: { x: 63, y: 12, width: 820, height: 23 }, style: { fill: '#f9c992' } },
  { type: 'text', z: 21, x: 473, y: 24, style: { text: 'CANTABRIAN ZONE', fill: '#1a1a1a', font: '16px ' + FONT, align: 'center', verticalAlign: 'middle' } },
  { type: 'rect', z: 20, shape: { x: 970, y: 12, width: 371, height: 22 }, style: { fill: '#b9e0b7' } },
  { type: 'text', z: 21, x: 1155, y: 23, style: { text: 'CENTRAL IBERIAN ZONE', fill: '#1a1a1a', font: '16px ' + FONT, align: 'center', verticalAlign: 'middle' } }
);

// axis titles
[[239, 1311], [689, 975], [1144, 1027]].forEach(function (pos) {
  graphics.push({ type: 'text', z: 21, x: pos[0], y: pos[1],
    style: { text: 'Age (Ma)', fill: '#1a1a1a', font: 'italic 16px ' + FONT, align: 'center', verticalAlign: 'middle' } });
});

// age band key
var keyBoxX = [561, 561, 561, 967, 967, 967];
var keyBoxY = [1133, 1183, 1232, 1133, 1183, 1232];
var keyTextX = [633, 633, 630, 1040, 1040, 1043];
var keyTextY = [1151, 1200, 1250, 1141, 1200, 1250];
bandNames.forEach(function (name, k) {
  graphics.push({ type: 'rect', z: 20,
    shape: { x: keyBoxX[k], y: keyBoxY[k], width: 41, height: 38, r: 8 },
    style: { fill: bandFill[k], stroke: '#555', lineWidth: 1.2 } });
  graphics.push({ type: 'text', z: 21, x: keyTextX[k], y: keyTextY[k],
    style: { text: name, fill: '#1a1a1a', font: '20px ' + FONT, align: 'left', verticalAlign: 'middle' } });
});
graphics.push({ type: 'text', z: 21, x: 1042, y: 1165,
  style: { text: '(ECTASIAN-CALIMNIAN)', fill: '#1a1a1a', font: '16px ' + FONT, align: 'left', verticalAlign: 'middle' } });

var chart = echarts.init(document.getElementById('chart'), null, { renderer: 'canvas' });
chart.setOption({
  backgroundColor: '#ffffff',
  animation: false,
  grid: grids,
  xAxis: xAxes,
  yAxis: yAxes,
  legend: {
    data: ['PDD SUBTRACTION', 'PDD', 'KERNEL'],
    left: 613, top: 1075,
    itemWidth: 56, itemHeight: 14, itemGap: 18,
    itemStyle: { opacity: 0 },
    textStyle: { fontFamily: FONT, fontSize: 20, color: '#1a1a1a', padding: [0, 0, 0, 14] }
  },
  series: series,
  graphic: graphics
});
</script>
</body>
</html>
